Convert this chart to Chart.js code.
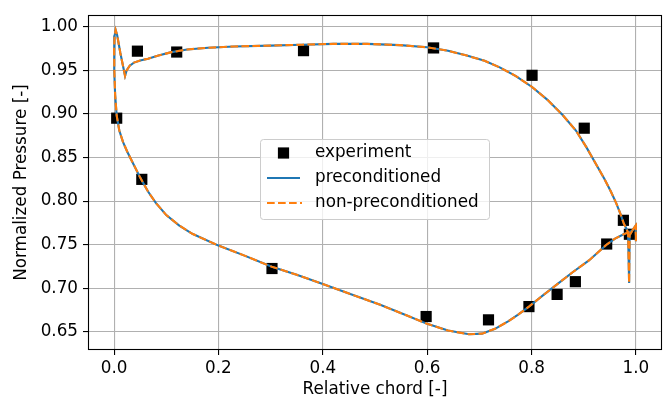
<!DOCTYPE html>
<html>
<head>
<meta charset="utf-8">
<script src="https://cdn.jsdelivr.net/npm/chart.js@4.4.0/dist/chart.umd.min.js"></script>
<style>
  html, body { margin: 0; padding: 0; background: #fff; }
  #pressureChart { display: block; }
</style>
</head>
<body>
<canvas id="pressureChart" width="670" height="404"></canvas>
<script>
// measured points
const EXP_X = [0.005, 0.0447, 0.120, 0.0531, 0.3026, 0.363, 0.6123, 0.598, 0.7175,
               0.795, 0.801, 0.849, 0.884, 0.901, 0.944, 0.976, 0.9875];
const EXP_Y = [0.8952, 0.9721, 0.9711, 0.825, 0.7227, 0.9727, 0.9758, 0.6676, 0.6638,
               0.679, 0.9444, 0.693, 0.7076, 0.8837, 0.7508, 0.778, 0.762];

// simulated surface distribution, TE -> upper side -> LE -> lower side -> TE
const CFD_X = [1.000, 1.000, 0.993, 0.988, 0.987, 0.985, 0.983, 0.977, 0.970, 0.962,
               0.952, 0.940, 0.925, 0.905, 0.885, 0.860, 0.830, 0.801, 0.770, 0.740,
               0.710, 0.676, 0.640, 0.600, 0.548, 0.485, 0.420, 0.360, 0.300, 0.230,
               0.180, 0.140, 0.110, 0.085, 0.065, 0.050, 0.038, 0.030, 0.024, 0.021,
               0.012, 0.006, 0.003, 0.001, 0.000, 0.0005, 0.002, 0.005, 0.010, 0.017,
               0.025, 0.035, 0.050, 0.065, 0.080, 0.100, 0.125, 0.150, 0.200, 0.250,
               0.3024, 0.350, 0.400, 0.450, 0.510, 0.560, 0.600, 0.640, 0.680, 0.705,
               0.730, 0.755, 0.775, 0.795, 0.820, 0.850, 0.880, 0.910, 0.9446, 0.960,
               0.9766, 0.9927, 0.999, 1.000];
const PRE_Y = [0.754, 0.772, 0.766, 0.761, 0.706, 0.763, 0.767, 0.774, 0.786, 0.798,
               0.811, 0.825, 0.841, 0.862, 0.881, 0.8985, 0.9165, 0.931, 0.9435, 0.9532,
               0.961, 0.967, 0.9725, 0.9765, 0.979, 0.9805, 0.9805, 0.9795, 0.9785, 0.9775,
               0.976, 0.974, 0.971, 0.967, 0.9635, 0.9615, 0.959, 0.9555, 0.950, 0.9438,
               0.970, 0.990, 0.9963, 0.990, 0.975, 0.950, 0.922, 0.898, 0.881, 0.868,
               0.857, 0.845, 0.827, 0.811, 0.798, 0.784, 0.772, 0.7625, 0.749, 0.7375,
               0.7247, 0.7155, 0.705, 0.694, 0.681, 0.669, 0.6592, 0.6515, 0.6472, 0.648,
               0.6535, 0.662, 0.670, 0.679, 0.691, 0.705, 0.719, 0.732, 0.7505, 0.757,
               0.762, 0.766, 0.7715, 0.760];
const NONPRE_Y = [0.754, 0.772, 0.766, 0.761, 0.706, 0.763, 0.767, 0.774, 0.786, 0.798,
               0.811, 0.825, 0.841, 0.862, 0.881, 0.8985, 0.9165, 0.931, 0.9435, 0.9532,
               0.961, 0.967, 0.9725, 0.9765, 0.979, 0.9805, 0.9805, 0.9795, 0.9785, 0.9775,
               0.976, 0.974, 0.971, 0.967, 0.9635, 0.9615, 0.959, 0.9555, 0.950, 0.9438,
               0.970, 0.990, 0.9963, 0.990, 0.975, 0.950, 0.922, 0.898, 0.881, 0.868,
               0.857, 0.845, 0.827, 0.811, 0.798, 0.784, 0.772, 0.7625, 0.749, 0.7375,
               0.7247, 0.7155, 0.705, 0.694, 0.681, 0.669, 0.6592, 0.6515, 0.6472, 0.648,
               0.6535, 0.662, 0.670, 0.679, 0.691, 0.705, 0.719, 0.732, 0.7505, 0.757,
               0.762, 0.766, 0.7715, 0.760];

const X_TICKS = [0.0, 0.2, 0.4, 0.6, 0.8, 1.0];
const Y_TICKS = [0.65, 0.70, 0.75, 0.80, 0.85, 0.90, 0.95, 1.00];
const SERIES_NAMES = ["experiment", "preconditioned", "non-preconditioned"];

const BLUE = "#1f77b4";
const ORANGE = "#ff7f0e";
const FONT = "'DejaVu Sans', sans-serif";
const FSIZE = 16.8;

function toPoints(xs, ys) {
  return xs.map((x, i) => ({ x: x, y: ys[i] }));
}

// white background, full box frame and a matplotlib style legend
const frameAndLegend = {
  id: "frameAndLegend",
  beforeDraw(chart) {
    const ctx = chart.ctx;
    ctx.save();
    ctx.fillStyle = "#fff";
    ctx.fillRect(0, 0, chart.width, chart.height);
    ctx.restore();
  },
  afterDraw(chart) {
    const { ctx, chartArea: a } = chart;
    ctx.save();
    ctx.strokeStyle = "#000";
    ctx.lineWidth = 1.1;
    ctx.strokeRect(Math.round(a.left) + 0.5, Math.round(a.top) + 0.5,
                   Math.round(a.right - a.left) - 1, Math.round(a.bottom - a.top) - 1);

    // legend box
    const bx = 260.5, by = 139.5, bw = 229, bh = 80;
    ctx.beginPath();
    ctx.roundRect(bx, by, bw, bh, 3);
    ctx.fillStyle = "rgba(255,255,255,0.8)";
    ctx.fill();
    ctx.strokeStyle = "#cccccc";
    ctx.lineWidth = 1;
    ctx.stroke();

    const rows = [153, 178, 203];
    const hx0 = 267, hx1 = 300, tx = 315;
    ctx.fillStyle = "#000";
    ctx.fillRect((hx0 + hx1) / 2 - 5.6, rows[0] - 5.6, 11.2, 11.2);
    ctx.beginPath();
    ctx.moveTo(hx0, rows[1]);
    ctx.lineTo(hx1, rows[1]);
    ctx.strokeStyle = BLUE;
    ctx.lineWidth = 2.1;
    ctx.stroke();
    ctx.beginPath();
    ctx.setLineDash([7.7, 3.3]);
    ctx.moveTo(hx0, rows[2]);
    ctx.lineTo(hx1 + 2, rows[2]);
    ctx.strokeStyle = ORANGE;
    ctx.stroke();
    ctx.setLineDash([]);

    ctx.fillStyle = "#000";
    ctx.font = FSIZE + "px " + FONT;
    ctx.textBaseline = "middle";
    ctx.textAlign = "left";
    SERIES_NAMES.forEach((name, i) => ctx.fillText(name, tx, rows[i]));
    ctx.restore();
  }
};

const CHART = document.getElementById("pressureChart");

let pressureChart = new Chart(CHART, {
  type: "scatter",
  data: {
    datasets: [
      {
        label: SERIES_NAMES[0],
        data: toPoints(EXP_X, EXP_Y),
        pointStyle: "rect",
        pointRadius: 7.9,
        pointBackgroundColor: "#000",
        pointBorderWidth: 0,
        showLine: false,
        order: 3
      },
      {
        label: SERIES_NAMES[1],
        data: toPoints(CFD_X, PRE_Y),
        showLine: true,
        borderColor: BLUE,
        borderWidth: 2.1,
        pointRadius: 0,
        tension: 0,
        order: 2
      },
      {
        label: SERIES_NAMES[2],
        data: toPoints(CFD_X, NONPRE_Y),
        showLine: true,
        borderColor: ORANGE,
        borderWidth: 2.1,
        borderDash: [7.7, 3.3],
        pointRadius: 0,
        tension: 0,
        order: 1
      }
    ]
  },
  options: {
    responsive: false,
    animation: false,
    devicePixelRatio: 1,
    layout: { padding: { top: 8, right: 8, left: 0, bottom: 0 } },
    plugins: {
      legend: { display: false },
      tooltip: { enabled: false }
    },
    scales: {
      x: {
        type: "linear",
        min: -0.05,
        max: 1.05,
        afterFit(scale) { scale.height = 54; },
        afterBuildTicks(scale) { scale.ticks = X_TICKS.map(v => ({ value: v })); },
        grid: { color: "#b0b0b0", lineWidth: 1.1, tickLength: 5, tickColor: "#000" },
        border: { display: false },
        ticks: {
          color: "#000",
          font: { family: FONT, size: FSIZE },
          padding: 4,
          maxRotation: 0,
          callback: v => v.toFixed(1)
        },
        title: {
          display: true,
          text: "Relative chord [-]",
          color: "#000",
          font: { family: FONT, size: FSIZE },
          padding: { top: 0, bottom: 4 }
        }
      },
      y: {
        type: "linear",
        min: 0.6292,
        max: 1.0135,
        afterFit(scale) { scale.width = 88; },
        afterBuildTicks(scale) { scale.ticks = Y_TICKS.map(v => ({ value: v })); },
        grid: { color: "#b0b0b0", lineWidth: 1.1, tickLength: 5, tickColor: "#000" },
        border: { display: false },
        ticks: {
          color: "#000",
          font: { family: FONT, size: FSIZE },
          padding: 5,
          callback: v => v.toFixed(2)
        },
        title: {
          display: true,
          text: "Normalized Pressure [-]",
          color: "#000",
          font: { family: FONT, size: FSIZE },
          padding: { top: 12, bottom: 0 }
        }
      }
    }
  },
  plugins: [frameAndLegend]
});
</script>
</body>
</html>
